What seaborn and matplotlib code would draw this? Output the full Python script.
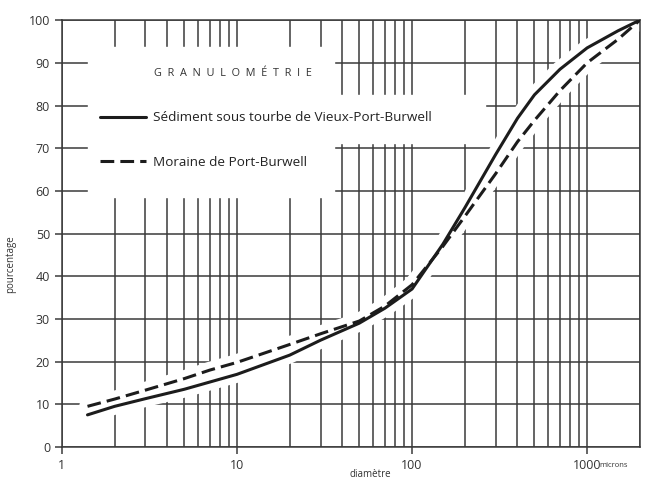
import matplotlib
matplotlib.use("Agg")
import matplotlib.pyplot as plt
import matplotlib.ticker as mticker
from matplotlib.patches import Rectangle
import seaborn as sns
import pandas as pd

# courbes granulométriques (diamètre en microns, % cumulé)
diam_sediment = [1.4, 2, 3, 5, 7, 10, 20, 30, 50, 70, 100, 150, 200, 300, 400, 500, 700, 1000, 1500, 2000]
pct_sediment = [7.5, 9.5, 11.3, 13.5, 15.2, 17, 21.5, 25, 29, 32.5, 37, 47.5, 56, 68.5, 77, 82.5, 88.5, 93.5, 97.5, 100]
diam_moraine = [1.4, 2, 3, 5, 7, 10, 20, 30, 50, 70, 100, 150, 200, 300, 400, 500, 700, 1000, 1500, 2000]
pct_moraine = [9.5, 11.2, 13.3, 16, 18, 19.8, 24, 26.5, 29.5, 33, 38, 47, 54, 64, 71.5, 76.5, 83.5, 90, 95.5, 100]

names = ["Sédiment sous tourbe de Vieux-Port-Burwell", "Moraine de Port-Burwell"]
title = "G  R  A  N  U  L  O  M  É  T  R  I  E"
y_ticks = list(range(0, 101, 10))
x_ticks = [1, 10, 100, 1000]
x_tick_labels = ["1", "10", "100", "1000"]

df = pd.concat([
    pd.DataFrame({"diametre": diam_sediment, "pourcentage": pct_sediment, "echantillon": names[0]}),
    pd.DataFrame({"diametre": diam_moraine, "pourcentage": pct_moraine, "echantillon": names[1]}),
])

sns.set_style("ticks")
plt.rcParams["font.family"] = ["Open Sans", "DejaVu Sans"]

ink = "#1c1c1c"
grid_c = "#3a3a3a"

fig = plt.figure(figsize=(6.45, 4.8), dpi=100)
ax = fig.add_axes([0.096, 0.069, 0.896, 0.889])
ax.set(xscale="log")

# grille logarithmique
ax.set_xlim(1, 2000)
ax.set_ylim(0, 100)
ax.xaxis.set_minor_locator(mticker.LogLocator(base=10, subs=range(2, 10), numticks=20))
ax.grid(True, which="both", axis="x", color=grid_c, lw=1.1)
ax.grid(True, which="major", axis="y", color=grid_c, lw=1.1)
ax.set_axisbelow(True)

# zones blanches du cartouche
ax.add_patch(Rectangle((1.4, 58.5), 36 - 1.4, 93.8 - 58.5, color="white", zorder=1.5))
ax.add_patch(Rectangle((36, 71.2), 260 - 36, 82.4 - 71.2, color="white", zorder=1.5))

# halo blanc autour des courbes
sns.lineplot(data=df, x="diametre", y="pourcentage", units="echantillon", estimator=None,
             color="white", linewidth=12, legend=False, ax=ax, zorder=1.6, sort=False)

sns.lineplot(data=df, x="diametre", y="pourcentage", hue="echantillon", style="echantillon",
             palette=[ink, ink], dashes={names[0]: "", names[1]: (4.5, 2)},
             linewidth=2.2, ax=ax, zorder=3, sort=False)

handles, labels = ax.get_legend_handles_labels()
for h in handles:
    h.set_linewidth(2.2)
leg = ax.legend(handles, labels, loc="upper left", bbox_to_anchor=(0.055, 0.802),
                frameon=False, handlelength=3.4, handletextpad=0.5, labelspacing=2.35,
                fontsize=9.7, borderpad=0)
for t in leg.get_texts():
    t.set_color("#222222")
ax.text(0.296, 0.874, title, transform=ax.transAxes, ha="center", va="center",
        fontsize=7.8, color="#333333", zorder=4)

ax.set_xticks(x_ticks)
ax.set_xticklabels(x_tick_labels)
ax.set_yticks(y_ticks)
ax.tick_params(axis="both", which="major", direction="out", length=5, width=1.1,
               color=grid_c, labelsize=9, labelcolor="#333333")
ax.tick_params(axis="x", which="minor", length=0)
ax.set_xlabel("")
ax.set_ylabel("")
for s in ax.spines.values():
    s.set_color(grid_c)
    s.set_linewidth(1.1)

fig.text(0.016, 0.45, "pourcentage", rotation=90, ha="center", va="center",
         fontsize=7, color="#333333")
fig.text(0.574, 0.012, "diamètre", ha="center", va="center", fontsize=7, color="#333333")
fig.text(0.93, 0.031, "microns", ha="left", va="center", fontsize=5.5, color="#333333")

fig.savefig("out.png", dpi=100)
